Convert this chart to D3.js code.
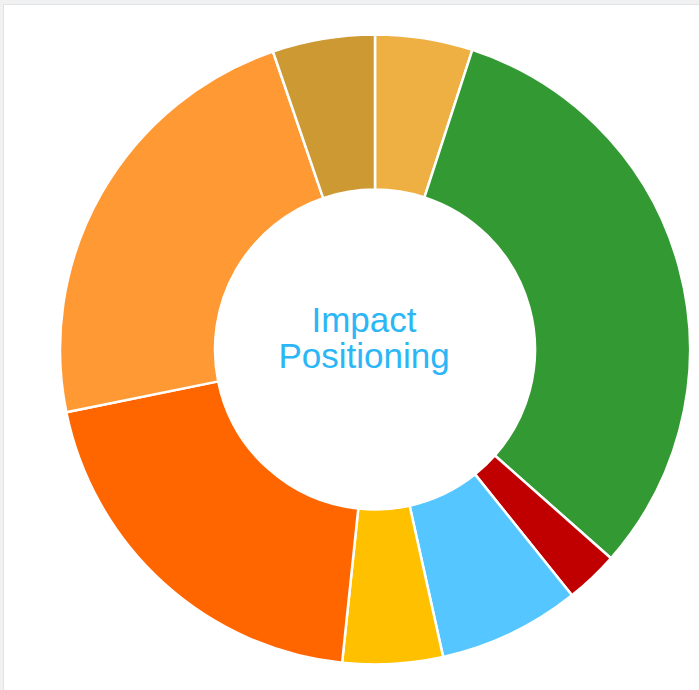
<!DOCTYPE html>
<html><head><meta charset="utf-8">
<script src="https://cdn.jsdelivr.net/npm/d3@7"></script>
<style>
html,body{margin:0;padding:0;background:#f1f1f1;overflow:hidden;}
#box{position:absolute;left:3px;top:4px;width:720px;height:720px;background:#fff;border:1px solid #dfe4e9;}
svg{position:absolute;left:0;top:0;}
</style></head><body>
<div id="box"></div>
<svg id="chart" width="699" height="690"></svg>
<script>
const labels = ["A","B","C","D","E","F","G","H"];
const values = [18.0, 113.5, 9.8, 26.2, 18.5, 72.5, 82.6, 18.9];
const colors = ["#EEB042","#339933","#C00000","#55C6FF","#FFC000","#FF6600","#FF9933","#CC9933"];
const centerTitle = ["Impact","Positioning"];

const svg = d3.select("#chart");
const cx = 375, cy = 349.5, R = 315, r = 160;
const g = svg.append("g").attr("transform",`translate(${cx},${cy})`);
const pie = d3.pie().sort(null).value(d=>d.v);
const arc = d3.arc().innerRadius(r).outerRadius(R);
const data = labels.map((l,i)=>({l, v: values[i], c: colors[i]}));
g.selectAll("path").data(pie(data)).enter().append("path")
  .attr("d", arc).attr("fill", d=>d.data.c)
  .attr("stroke","#fff").attr("stroke-width",2.5).attr("stroke-linejoin","round");
const t = g.append("text").attr("text-anchor","middle")
  .attr("font-family","'Liberation Sans', Arial, sans-serif").attr("font-size",35)
  .attr("fill","#2BB6F6");
centerTitle.forEach((s,i)=>t.append("tspan").attr("x",-11).attr("y",-17.5+i*36).text(s));
</script>
</body></html>
